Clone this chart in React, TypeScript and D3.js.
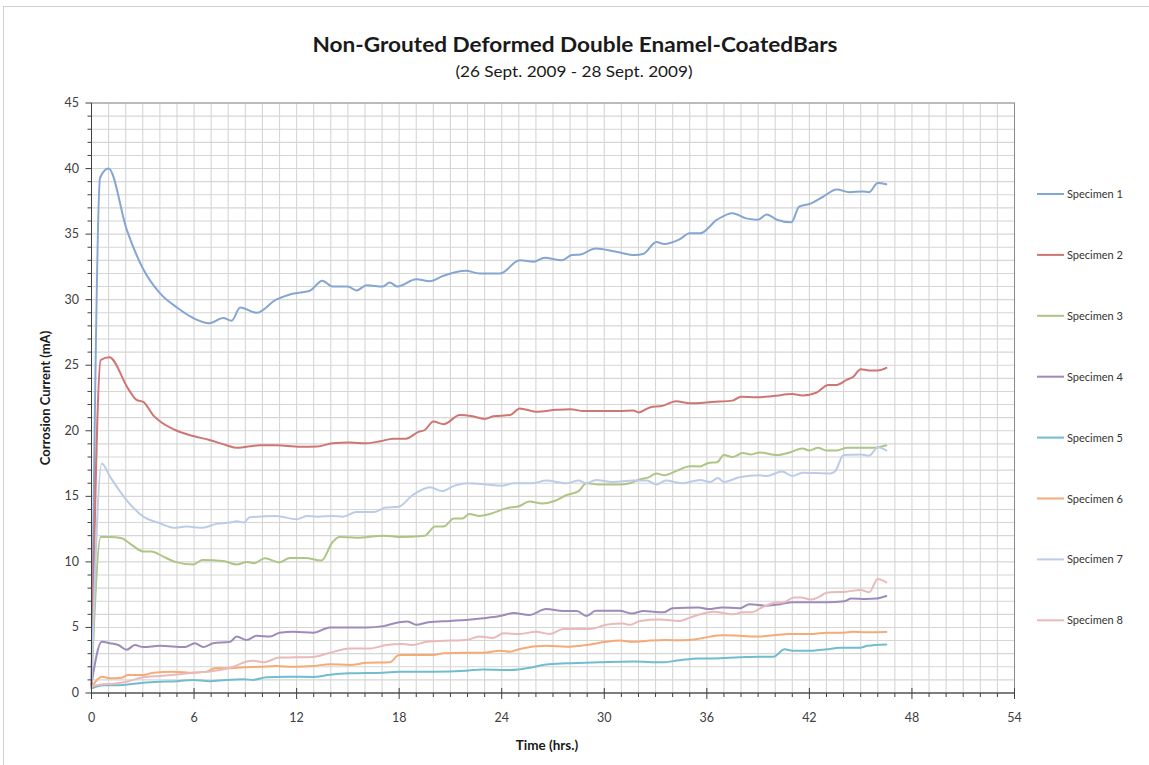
import React from "react";
import * as d3 from "d3";

// Time (hrs.) vs corrosion current (mA) readings for each specimen: [hour, mA]
const specimen1: [number, number][] = [
  [0, 0.5], [0.5, 39.3], [1.0, 40.0], [2.07, 35.3], [3.0, 32.4], [4.0, 30.5], [5.0, 29.4], [5.95, 28.6],
  [6.9, 28.2], [7.7, 28.6], [8.2, 28.4], [8.7, 29.4], [9.66, 29.0], [10.8, 30.0], [11.6, 30.4],
  [12.8, 30.7], [13.5, 31.45], [14.1, 31.0], [15.0, 31.0], [15.5, 30.7], [16.1, 31.1], [17.05, 31.0],
  [17.45, 31.3], [17.9, 31.0], [19.0, 31.55], [19.8, 31.4], [20.55, 31.8], [21.9, 32.2], [22.7, 32.0],
  [23.9, 32.0], [25.05, 33.0], [25.9, 32.9], [26.5, 33.2], [27.5, 33.0], [28.1, 33.4], [28.6, 33.45],
  [29.5, 33.9], [30.7, 33.65], [31.8, 33.4], [32.3, 33.5], [33.05, 34.4], [33.5, 34.25], [34.4, 34.6],
  [35.0, 35.06], [35.6, 35.06], [36.6, 36.1], [37.5, 36.6], [38.3, 36.2], [39.0, 36.1], [39.5, 36.5],
  [40.1, 36.1], [40.95, 35.9], [41.4, 37.1], [42.0, 37.3], [42.8, 37.85], [43.6, 38.4], [44.35, 38.2],
  [45.1, 38.25], [45.5, 38.2], [46.0, 38.9], [46.5, 38.8],
];
const specimen2: [number, number][] = [
  [0, 0.5], [0.54, 25.4], [1.04, 25.6], [2.15, 23.2], [2.64, 22.35], [3.03, 22.2], [3.6, 21.2],
  [4.9, 20.06], [5.95, 19.6], [6.9, 19.3], [7.9, 18.9], [8.5, 18.7], [9.85, 18.9], [10.8, 18.9],
  [12.2, 18.78], [13.2, 18.8], [14.1, 19.05], [15.1, 19.1], [16.1, 19.05], [16.9, 19.2], [17.65, 19.4],
  [18.4, 19.4], [19.1, 19.9], [19.5, 20.06], [20.0, 20.7], [20.6, 20.5], [21.55, 21.2], [22.3, 21.1],
  [23.0, 20.9], [23.5, 21.1], [24.5, 21.2], [25.05, 21.7], [26.0, 21.46], [27.2, 21.6], [28.0, 21.65],
  [28.8, 21.5], [29.7, 21.5], [30.9, 21.5], [31.7, 21.55], [32.0, 21.4], [32.7, 21.8], [33.4, 21.9],
  [34.2, 22.25], [35.0, 22.1], [35.4, 22.1], [36.3, 22.2], [37.5, 22.3], [38.0, 22.6], [38.9, 22.55],
  [39.9, 22.65], [41.0, 22.8], [41.6, 22.7], [42.4, 22.9], [43.1, 23.5], [43.6, 23.5], [44.2, 23.9],
  [44.55, 24.1], [45.0, 24.7], [45.5, 24.6], [46.0, 24.6], [46.5, 24.8],
];
const specimen3: [number, number][] = [
  [0, 0.8], [0.54, 11.9], [1.08, 11.9], [1.77, 11.8], [2.25, 11.4], [3.03, 10.8], [3.5, 10.8],
  [4.2, 10.4], [4.9, 10.0], [5.95, 9.8], [6.5, 10.15], [7.7, 10.07], [8.5, 9.8], [9.1, 10.0], [9.5, 9.9],
  [10.15, 10.27], [11.0, 9.96], [11.6, 10.3], [12.5, 10.3], [13.45, 10.1], [14.1, 11.5], [14.5, 11.9],
  [15.5, 11.85], [17.1, 12.0], [18.0, 11.9], [19.5, 12.0], [20.1, 12.7], [20.6, 12.7], [21.2, 13.3],
  [21.7, 13.3], [22.1, 13.65], [22.7, 13.5], [23.3, 13.65], [24.3, 14.1], [25.05, 14.26], [25.6, 14.6],
  [26.4, 14.45], [27.0, 14.6], [27.8, 15.1], [28.5, 15.4], [28.95, 16.0], [29.7, 15.9], [30.9, 15.9],
  [31.5, 16.0], [32.1, 16.3], [32.6, 16.45], [33.05, 16.75], [33.5, 16.6], [34.3, 16.98], [35.0, 17.3],
  [35.6, 17.28], [36.1, 17.55], [36.6, 17.6], [37.0, 18.15], [37.5, 18.0], [38.1, 18.3], [38.6, 18.2],
  [39.1, 18.35], [40.1, 18.15], [40.85, 18.35], [41.6, 18.65], [42.0, 18.5], [42.5, 18.7], [43.0, 18.5],
  [43.6, 18.5], [44.2, 18.7], [45.1, 18.7], [45.7, 18.7], [46.5, 18.9],
];
const specimen4: [number, number][] = [
  [0, 0.7], [0.6, 3.9], [1.08, 3.8], [1.57, 3.66], [2.06, 3.3], [2.54, 3.66], [3.03, 3.5], [4.0, 3.6],
  [5.47, 3.5], [6.05, 3.8], [6.54, 3.5], [7.12, 3.8], [8.1, 3.9], [8.5, 4.3], [9.08, 4.04], [9.66, 4.37],
  [10.44, 4.3], [11.0, 4.6], [11.8, 4.67], [12.97, 4.6], [13.95, 5.0], [16.1, 5.0], [17.06, 5.1],
  [18.0, 5.4], [18.5, 5.45], [19.0, 5.2], [19.7, 5.4], [21.0, 5.5], [21.9, 5.57], [22.9, 5.7],
  [23.9, 5.87], [24.7, 6.1], [25.6, 5.95], [26.6, 6.4], [27.6, 6.25], [28.4, 6.25], [28.95, 5.87],
  [29.5, 6.27], [30.9, 6.27], [31.6, 6.06], [32.3, 6.25], [33.45, 6.15], [34.0, 6.46], [35.5, 6.53],
  [36.1, 6.4], [36.9, 6.53], [37.9, 6.46], [38.5, 6.77], [39.5, 6.66], [40.3, 6.77], [41.0, 6.92],
  [43.0, 6.92], [44.06, 7.0], [44.45, 7.2], [45.3, 7.17], [45.9, 7.2], [46.5, 7.4],
];
const specimen5: [number, number][] = [
  [0, 0.35], [0.7, 0.6], [1.67, 0.6], [3.03, 0.79], [4.0, 0.86], [5.0, 0.9], [5.95, 1.0], [6.9, 0.9],
  [7.9, 1.0], [8.9, 1.04], [9.46, 1.0], [10.25, 1.2], [11.4, 1.24], [12.97, 1.22], [13.85, 1.37],
  [15.1, 1.5], [17.06, 1.55], [18.0, 1.63], [20.0, 1.63], [21.9, 1.7], [22.9, 1.8], [24.5, 1.75],
  [25.8, 1.96], [26.6, 2.17], [27.8, 2.26], [29.7, 2.34], [31.7, 2.4], [33.4, 2.34], [34.4, 2.5],
  [35.5, 2.64], [36.4, 2.64], [37.9, 2.72], [39.1, 2.77], [39.9, 2.77], [40.55, 3.33], [41.0, 3.23],
  [42.2, 3.23], [43.0, 3.33], [43.8, 3.45], [44.95, 3.45], [45.4, 3.6], [46.5, 3.7],
];
const specimen6: [number, number][] = [
  [0, 0.43], [0.6, 1.24], [1.08, 1.12], [1.77, 1.17], [2.15, 1.37], [3.03, 1.37], [3.6, 1.55],
  [4.8, 1.63], [5.95, 1.55], [6.74, 1.63], [7.2, 1.88], [7.9, 1.88], [8.9, 1.96], [9.85, 2.0],
  [10.8, 2.06], [11.8, 2.0], [13.0, 2.06], [13.95, 2.2], [15.1, 2.13], [16.1, 2.3], [17.45, 2.34],
  [18.0, 2.9], [19.0, 2.9], [20.0, 2.9], [20.6, 3.03], [21.9, 3.07], [22.9, 3.07], [23.9, 3.23],
  [24.5, 3.15], [25.05, 3.36], [26.6, 3.6], [27.8, 3.53], [28.95, 3.66], [30.1, 3.9], [30.9, 4.0],
  [31.7, 3.9], [32.7, 4.0], [33.6, 4.04], [34.5, 4.02], [35.4, 4.1], [36.2, 4.3], [36.9, 4.4],
  [37.9, 4.37], [39.0, 4.3], [39.9, 4.4], [40.85, 4.5], [42.2, 4.5], [43.0, 4.6], [44.0, 4.6],
  [44.55, 4.67], [45.3, 4.63], [46.5, 4.65],
];
const specimen7: [number, number][] = [
  [0, 0.8], [0.6, 17.5], [1.08, 16.5], [2.06, 14.7], [3.03, 13.45], [4.0, 12.95], [4.8, 12.6],
  [5.57, 12.7], [6.5, 12.6], [7.3, 12.9], [8.1, 13.0], [8.5, 13.1], [8.9, 13.0], [9.27, 13.4],
  [10.8, 13.5], [12.0, 13.25], [12.6, 13.5], [13.2, 13.45], [14.1, 13.5], [14.7, 13.45], [15.5, 13.8],
  [16.5, 13.8], [17.2, 14.15], [17.95, 14.2], [18.8, 15.1], [19.8, 15.7], [20.5, 15.4], [21.2, 15.8],
  [22.0, 16.0], [23.1, 15.9], [24.0, 15.8], [24.7, 16.0], [25.8, 16.0], [26.6, 16.2], [27.8, 16.0],
  [28.5, 16.2], [28.95, 16.0], [29.5, 16.25], [30.5, 16.1], [31.7, 16.2], [32.5, 16.2], [33.05, 15.9],
  [33.6, 16.2], [34.6, 16.0], [35.6, 16.25], [36.2, 16.1], [36.65, 16.4], [37.0, 16.1], [37.9, 16.45],
  [39.1, 16.6], [39.5, 16.55], [40.4, 16.9], [41.0, 16.55], [41.6, 16.8], [43.2, 16.75], [43.5, 16.9],
  [44.0, 18.15], [44.95, 18.2], [45.5, 18.1], [46.0, 18.75], [46.5, 18.5],
];
const specimen8: [number, number][] = [
  [0, 0.5], [0.7, 0.66], [1.27, 0.7], [2.06, 0.86], [3.03, 1.2], [4.0, 1.3], [5.0, 1.42], [5.95, 1.55],
  [6.9, 1.63], [7.5, 1.75], [8.3, 2.0], [9.08, 2.4], [9.46, 2.46], [10.05, 2.34], [11.0, 2.7],
  [12.0, 2.72], [12.97, 2.75], [13.85, 3.03], [15.1, 3.4], [16.3, 3.4], [17.25, 3.66], [18.2, 3.74],
  [18.8, 3.66], [19.6, 3.9], [21.0, 4.0], [21.9, 4.04], [22.7, 4.3], [23.5, 4.2], [24.1, 4.55],
  [25.05, 4.5], [26.0, 4.67], [26.8, 4.5], [27.6, 4.88], [29.15, 4.88], [30.1, 5.2], [31.1, 5.3],
  [31.5, 5.2], [32.1, 5.5], [33.25, 5.6], [34.4, 5.5], [35.0, 5.75], [35.8, 6.06], [36.4, 6.2],
  [37.5, 6.0], [38.1, 6.15], [38.6, 6.15], [39.3, 6.58], [40.1, 6.9], [40.45, 6.9], [41.1, 7.28],
  [41.5, 7.28], [42.1, 7.13], [42.6, 7.35], [43.0, 7.65], [44.15, 7.73], [45.0, 7.86], [45.5, 7.68],
  [46.0, 8.7], [46.5, 8.44],
];

const seriesNames = ["Specimen 1", "Specimen 2", "Specimen 3", "Specimen 4", "Specimen 5", "Specimen 6", "Specimen 7", "Specimen 8"];
const seriesData = [specimen1, specimen2, specimen3, specimen4, specimen5, specimen6, specimen7, specimen8];
const seriesColors = ["#86a6d2", "#cf7673", "#adc585", "#9d8bba", "#72bccf", "#f5ab77", "#bccce8", "#e9bab9"];

const xTicks = [0, 6, 12, 18, 24, 30, 36, 42, 48, 54];
const yTicks = [0, 5, 10, 15, 20, 25, 30, 35, 40, 45];

const W = 1149;
const H = 765;
const FONT = "Lato, 'Open Sans', sans-serif";

export default function App() {
  const x = d3.scaleLinear().domain([0, 54]).range([91.5, 1014.5]);
  const y = d3.scaleLinear().domain([0, 45]).range([693, 103]);
  const line = d3
    .line<[number, number]>()
    .x((d) => x(d[0]))
    .y((d) => y(d[1]))
    .curve(d3.curveMonotoneX);

  const minorX = d3.range(0, 55, 1);
  const minorY = d3.range(0, 46, 1);

  return (
    <svg
      width={W}
      height={H}
      style={{ position: "absolute", left: 0, top: 0, background: "#fff" }}
      fontFamily={FONT}
    >
      <rect x={0} y={0} width={W} height={H} fill="#fff" />
      <rect x={3.5} y={6.5} width={1160} height={800} fill="none" stroke="#d0d0d0" strokeWidth={1} />

      {/* title */}
      <text x={575} y={52} textAnchor="middle" fontSize={20} fontWeight="bold" fill="#1a1a1a" textLength={525} lengthAdjust="spacingAndGlyphs">
        Non-Grouted Deformed Double Enamel-CoatedBars
      </text>
      <text x={574} y={77} textAnchor="middle" fontSize={15} fill="#1a1a1a" textLength={237} lengthAdjust="spacingAndGlyphs">
        (26 Sept. 2009 - 28 Sept. 2009)
      </text>

      {/* gridlines */}
      <g stroke="#d6d6d6" strokeWidth={1.1}>
        {minorX.map((t) => (
          <line key={"gx" + t} x1={x(t)} x2={x(t)} y1={y(0)} y2={y(45)} />
        ))}
        {minorY.map((v) => (
          <line key={"gy" + v} x1={x(0)} x2={x(54)} y1={y(v)} y2={y(v)} />
        ))}
      </g>
      <rect x={x(0)} y={y(45)} width={x(54) - x(0)} height={y(0) - y(45)} fill="none" stroke="#8c8c8c" strokeWidth={1} />

      {/* series */}
      <g fill="none" strokeWidth={2} strokeLinejoin="round" strokeLinecap="round">
        {seriesData.map((s, i) => (
          <path key={seriesNames[i]} d={line(s) || ""} stroke={seriesColors[i]} />
        ))}
      </g>

      {/* axes */}
      <g stroke="#404040" strokeWidth={1}>
        <line x1={x(0)} x2={x(0)} y1={y(0)} y2={y(45)} />
        <line x1={x(0)} x2={x(54)} y1={y(0)} y2={y(0)} />
        {minorY.map((v) => (
          <line key={"ty" + v} x1={x(0) - (v % 5 === 0 ? 6 : 4)} x2={x(0)} y1={y(v)} y2={y(v)} />
        ))}
        {minorX.map((t) => (
          <line key={"tx" + t} x1={x(t)} x2={x(t)} y1={t % 6 === 0 ? y(0) - 5 : y(0)} y2={y(0) + (t % 6 === 0 ? 6 : 4)} />
        ))}
      </g>

      {/* tick labels */}
      <g fontSize={12.5} fill="#404040">
        {yTicks.map((v) => (
          <text key={"ly" + v} x={79} y={y(v) + 4} textAnchor="end">
            {v}
          </text>
        ))}
        {xTicks.map((t) => (
          <text key={"lx" + t} x={x(t)} y={722} textAnchor="middle">
            {t}
          </text>
        ))}
      </g>

      {/* axis titles */}
      <text x={547} y={750} textAnchor="middle" fontSize={13.5} fontWeight="bold" fill="#1a1a1a">
        Time (hrs.)
      </text>
      <text
        transform={`translate(50,398) rotate(-90)`}
        textAnchor="middle"
        fontSize={13}
        fontWeight="bold"
        fill="#1a1a1a"
      >
        Corrosion Current (mA)
      </text>

      {/* legend */}
      <g>
        {seriesNames.map((name, i) => {
          const ly = 194 + i * 60.9;
          return (
            <g key={"lg" + i}>
              <line x1={1037} x2={1064} y1={ly} y2={ly} stroke={seriesColors[i]} strokeWidth={2} />
              <text x={1067} y={ly + 4} fontSize={11} fill="#333">
                {name}
              </text>
            </g>
          );
        })}
      </g>
    </svg>
  );
}
